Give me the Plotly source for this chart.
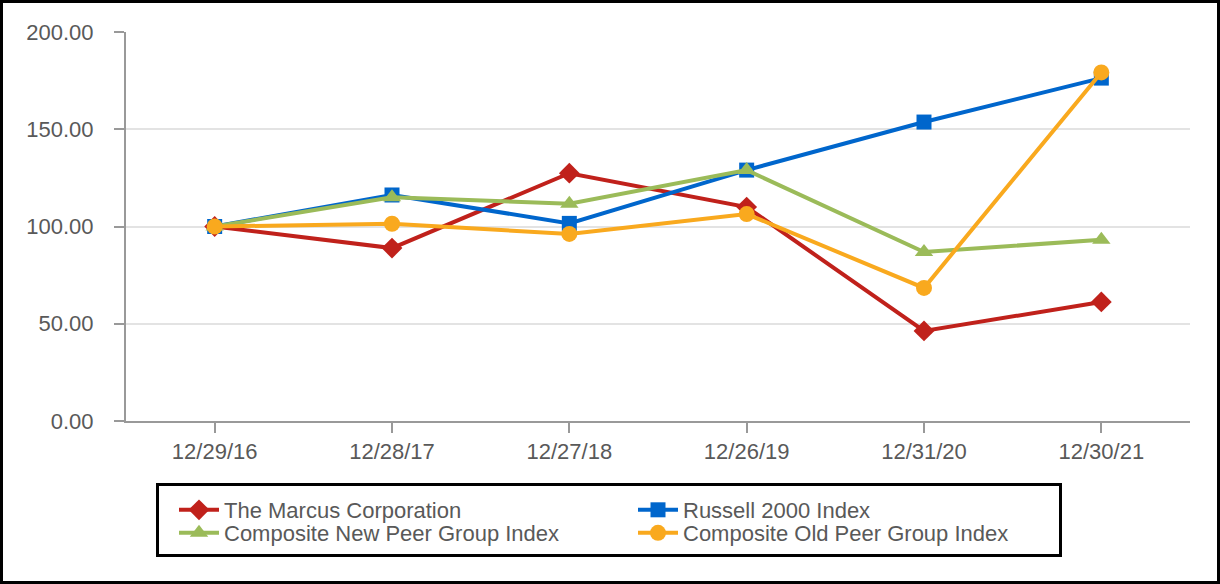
import plotly.graph_objects as go

dates = ["12/29/16", "12/28/17", "12/27/18", "12/26/19", "12/31/20", "12/30/21"]
marcus = [100.00, 88.9, 127.4, 110.0, 46.3, 61.2]
russell = [100.00, 116.2, 101.6, 129.0, 153.7, 176.3]
new_peer = [100.00, 115.0, 111.7, 129.0, 86.9, 93.2]
old_peer = [100.00, 101.4, 96.2, 106.4, 68.4, 179.2]
y_ticks = [0, 50, 100, 150, 200]

series = [
    ("The Marcus Corporation", marcus, "#C0211B", "diamond", 16, "legend"),
    ("Russell 2000 Index", russell, "#0066CC", "square", 15, "legend"),
    ("Composite New Peer Group Index", new_peer, "#9BBB59", "triangle-up", 16, "legend2"),
    ("Composite Old Peer Group Index", old_peer, "#F9A91E", "circle", 16, "legend2"),
]

fig = go.Figure()
for name, vals, color, sym, size, lg in series:
    fig.add_trace(go.Scatter(
        x=dates, y=vals, name=name, mode="lines+markers",
        line=dict(color=color, width=4),
        marker=dict(symbol=sym, size=size, color=color),
        legend=lg,
    ))

font = "Liberation Sans, Arial, sans-serif"
L, R, T, B = 126, 30, 32, 163
W, H = 1220, 584
pw, ph = W - L - R, H - T - B
fs = 22


def px_x(p):
    return (p - L) / pw


def px_y(p):
    return (H - B - p) / ph


leg_common = dict(
    orientation="h", xanchor="left", yanchor="top",
    entrywidth=404, entrywidthmode="pixels",
    borderwidth=0, bgcolor="rgba(0,0,0,0)",
    font=dict(size=fs, color="#595959"),
    tracegroupgap=0, itemwidth=40,
)

fig.update_layout(
    width=W, height=H,
    margin=dict(l=L, r=R, t=T, b=B),
    paper_bgcolor="white", plot_bgcolor="white",
    font=dict(family=font, size=fs, color="#595959"),
    xaxis=dict(
        type="category", range=[-0.5, 5.5],
        showline=True, linecolor="#999999", linewidth=2,
        ticks="outside", ticklen=10, tickcolor="#999999", tickwidth=2,
        showgrid=False, tickfont=dict(size=fs, color="#595959"),
    ),
    yaxis=dict(
        range=[0, 200], tickvals=y_ticks, tickformat=".2f",
        showline=True, linecolor="#999999", linewidth=2,
        ticks="outside", ticklen=10, tickcolor="#999999", tickwidth=2,
        ticklabelstandoff=16,
        showgrid=True, gridcolor="#E3E3E3", gridwidth=2, zeroline=False,
        tickfont=dict(size=fs, color="#595959"),
    ),
    legend=dict(x=px_x(174), y=px_y(489), **leg_common),
    legend2=dict(x=px_x(174), y=px_y(512), **leg_common),
    showlegend=True,
)

# legend frame
fig.add_shape(
    type="rect", xref="paper", yref="paper",
    x0=px_x(157.5), x1=px_x(1060.5), y0=px_y(555.5), y1=px_y(484.5),
    line=dict(color="black", width=3), fillcolor="rgba(0,0,0,0)",
)
# outer frame
fig.add_shape(
    type="rect", xref="paper", yref="paper",
    x0=px_x(1.5), x1=px_x(W - 1.5), y0=px_y(H - 1.5), y1=px_y(1.5),
    line=dict(color="black", width=3), fillcolor="rgba(0,0,0,0)",
    layer="above",
)

fig.write_html("out.html", config={"displayModeBar": False},
               post_script="document.body.style.margin='0';")
